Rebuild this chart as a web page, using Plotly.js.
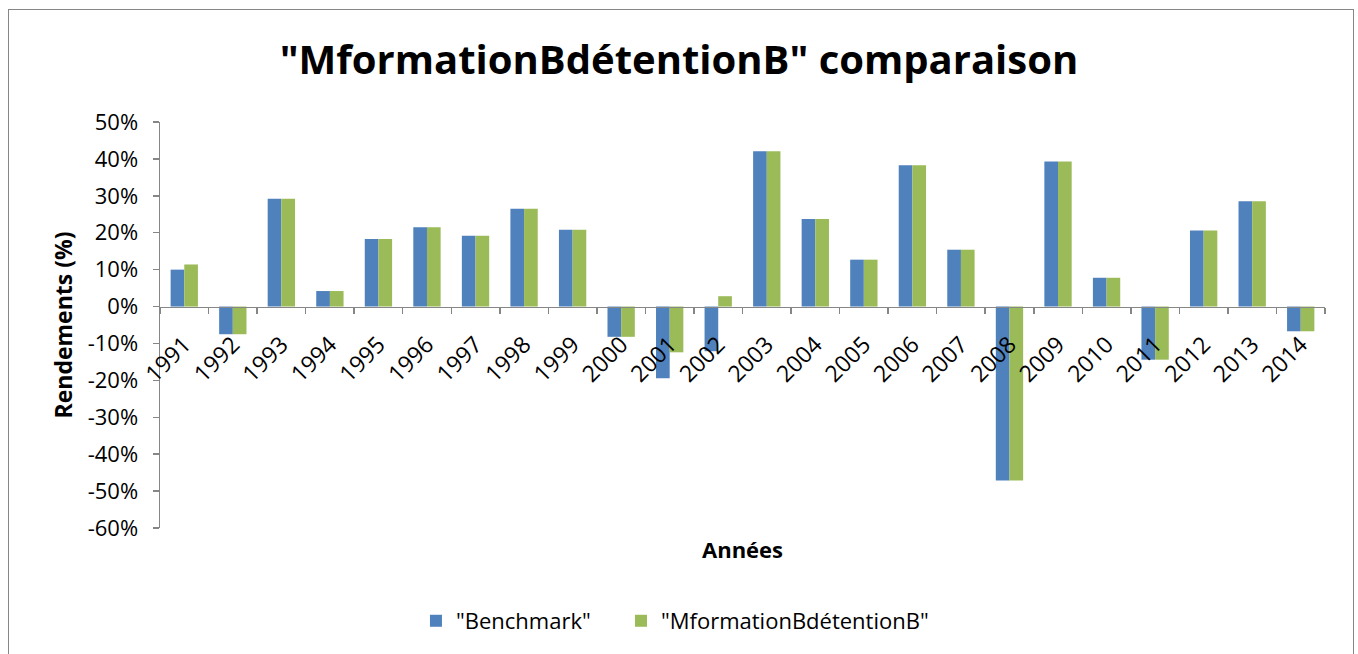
<!DOCTYPE html>
<html>
<head>
<meta charset="utf-8">
<script src="https://cdn.plot.ly/plotly-3.0.1.min.js"></script>
<style>
  html, body { margin: 0; padding: 0; background: #fff; }
  #frame { position: absolute; left: 8px; top: 9px; width: 1346px; height: 700px; border: 1.5px solid #868686; box-sizing: border-box; }
  #chart { position: absolute; left: 0; top: 0; width: 1358px; height: 654px; }
</style>
</head>
<body>
<div id="frame"></div>
<div id="chart"></div>
<script>
const years = ["1991","1992","1993","1994","1995","1996","1997","1998","1999","2000","2001","2002",
               "2003","2004","2005","2006","2007","2008","2009","2010","2011","2012","2013","2014"];
const benchmark = [10.0, -7.5, 29.2, 4.2, 18.3, 21.5, 19.2, 26.5, 20.8, -8.2, -19.4, -12.1,
                   42.1, 23.7, 12.7, 38.3, 15.4, -47.1, 39.3, 7.8, -14.4, 20.6, 28.5, -6.7];
const mformation = [11.4, -7.5, 29.2, 4.2, 18.3, 21.5, 19.2, 26.5, 20.8, -8.2, -12.4, 2.8,
                    42.1, 23.7, 12.7, 38.3, 15.4, -47.1, 39.3, 7.8, -14.4, 20.6, 28.5, -6.7];
const seriesNames = ['"Benchmark"', '"MformationBdétentionB"'];
const yTickVals = [50, 40, 30, 20, 10, 0, -10, -20, -30, -40, -50, -60];
const yTickText = ["50%", "40%", "30%", "20%", "10%", "0%", "-10%", "-20%", "-30%", "-40%", "-50%", "-60%"];
const yRange = [-60, 50];

const font = "Open Sans, Liberation Sans, sans-serif";
const axisGray = "#868686";

const traces = [
  { type: "bar", name: seriesNames[0], x: years, y: benchmark, legend: "legend",
    marker: { color: "#4F81BD" } },
  { type: "bar", name: seriesNames[1], x: years, y: mformation, legend: "legend2",
    marker: { color: "#9BBB59" } }
];

const zeroPos = (0 - yRange[0]) / (yRange[1] - yRange[0]);
const legendFont = { family: font, size: 22, color: "#000" };

const layout = {
  width: 1358, height: 654,
  paper_bgcolor: "rgba(0,0,0,0)", plot_bgcolor: "rgba(0,0,0,0)",
  margin: { l: 160, r: 33, t: 122, b: 126, autoexpand: false },
  barmode: "group", bargap: 0.437, bargroupgap: 0,
  font: { family: font, color: "#000", size: 22 },
  title: { text: "<b>\"MformationBdétentionB\" comparaison</b>",
           font: { family: font, size: 40, color: "#000" },
           x: 0.5, xref: "container", xanchor: "center", y: 0.908, yref: "container", yanchor: "middle" },
  xaxis: {
    type: "category", anchor: "free", position: zeroPos, dtick: 1,
    showline: true, linecolor: axisGray, linewidth: 1.5,
    ticks: "outside", tickson: "boundaries", ticklen: 6, tickcolor: axisGray, tickwidth: 1.5,
    tickangle: -45, ticklabelstandoff: 14, tickfont: { family: font, size: 23, color: "#000" },
    showgrid: false, zeroline: false, fixedrange: true, automargin: false
  },
  yaxis: {
    range: yRange, tickvals: yTickVals, ticktext: yTickText,
    showline: true, linecolor: axisGray, linewidth: 1.5,
    ticks: "outside", ticklen: 6, tickcolor: axisGray, tickwidth: 1.5,
    ticklabelstandoff: 10,
    tickfont: { family: font, size: 22, color: "#000" },
    showgrid: false, zeroline: false, fixedrange: true, automargin: false,
    title: { text: "<b>Rendements (%)</b>", font: { family: font, size: 23, color: "#000" }, standoff: 8 }
  },
  annotations: [
    { text: "<b>Années</b>", xref: "paper", yref: "paper", x: 0.5, y: -0.052,
      xanchor: "center", yanchor: "middle", showarrow: false,
      font: { family: font, size: 22, color: "#000" } }
  ],
  showlegend: true,
  legend: { orientation: "h", x: 0.2197, xanchor: "left", y: -0.229, yanchor: "middle",
            font: legendFont, itemwidth: 30 },
  legend2: { orientation: "h", x: 0.3957, xanchor: "left", y: -0.229, yanchor: "middle",
             font: legendFont, itemwidth: 30 }
};

Plotly.newPlot("chart", traces, layout, { displayModeBar: false, staticPlot: true });
</script>
</body>
</html>
